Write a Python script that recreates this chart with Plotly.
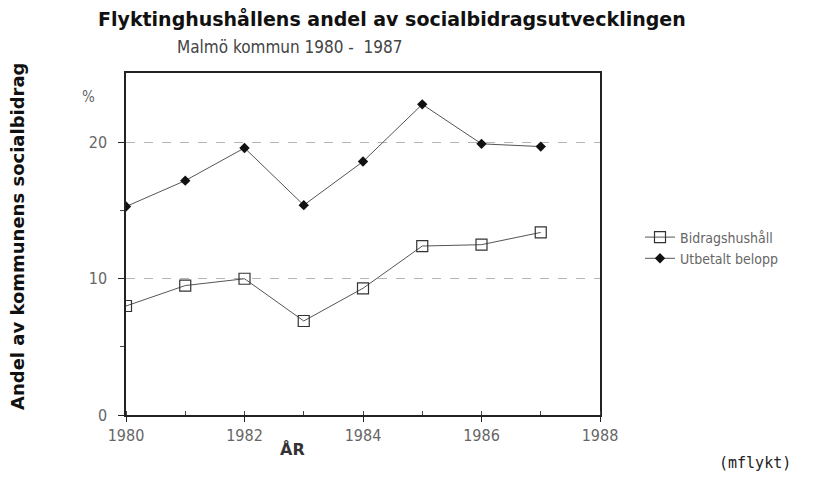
import plotly.graph_objects as go

years = [1980, 1981, 1982, 1983, 1984, 1985, 1986, 1987]
bidragshushall = [8.0, 9.5, 10.0, 6.9, 9.3, 12.4, 12.5, 13.4]
utbetalt_belopp = [15.3, 17.2, 19.6, 15.4, 18.6, 22.8, 19.9, 19.7]
x_ticks = [1980, 1982, 1984, 1986, 1988]
y_ticks = [0, 10, 20]

# page has an 8px body margin; positions below are in screenshot pixels
OFF = 8
W, H = 824, 491
PL, PR, PT, PB = 126, 600, 73, 415          # plot box in screenshot pixels
ML, MT = PL - OFF, PT - OFF
MR, MB = W - (PR - OFF), H - (PB - OFF)
PW, PH = PR - PL, PB - PT


def ann(text, px, py, font, angle=0):
    return dict(text=text, x=(px - PL) / PW, y=(PB - py) / PH, xref="paper", yref="paper",
                xanchor="center", yanchor="middle", showarrow=False, textangle=angle, font=font)


fig = go.Figure()
fig.add_trace(go.Scatter(
    x=years, y=bidragshushall, mode="lines+markers", name="Bidragshushåll",
    line=dict(color="#555555", width=1),
    marker=dict(symbol="square-open", size=11, color="#333333", line=dict(width=1.2)),
))
fig.add_trace(go.Scatter(
    x=years, y=utbetalt_belopp, mode="lines+markers", name="Utbetalt belopp",
    line=dict(color="#555555", width=1),
    marker=dict(symbol="diamond", size=8, color="#111111"),
))

cond = "DejaVu Sans Condensed, sans-serif"
tickfont = dict(family=cond, size=16, color="#666666")
fig.update_xaxes(
    range=[1980, 1988], tickvals=x_ticks, ticktext=[str(v) for v in x_ticks],
    showline=True, linecolor="#222222", linewidth=1.5, mirror=True,
    ticks="outside", ticklen=5, tickcolor="#222222",
    minor=dict(dtick=1, ticks="inside", ticklen=4, tickcolor="#444444"),
    showgrid=False, zeroline=False, tickfont=tickfont,
)
fig.update_yaxes(
    range=[0, 25.1], tickvals=y_ticks,
    showline=True, linecolor="#222222", linewidth=1.5, mirror=True,
    ticks="outside", ticklen=6, tickcolor="#222222", ticklabelstandoff=8,
    minor=dict(tickvals=[5, 15], ticks="outside", ticklen=4, tickcolor="#444444"),
    showgrid=True, gridcolor="#b5b5b5", griddash="dash", gridwidth=1,
    zeroline=False, tickfont=tickfont,
)

fig.update_layout(
    width=W, height=H,
    margin=dict(l=ML, r=MR, t=MT, b=MB),
    plot_bgcolor="white", paper_bgcolor="white",
    showlegend=True,
    legend=dict(x=(640 - PL) / PW, y=(PB - 248) / PH, xanchor="left", yanchor="middle",
                font=dict(family=cond, size=14, color="#666666"),
                bgcolor="rgba(0,0,0,0)", tracegroupgap=0, itemwidth=30),
    annotations=[
        ann("<b>Flyktinghushållens andel av socialbidragsutvecklingen</b>", 392, 18,
            dict(family="DejaVu Sans, sans-serif", size=19, color="#111111")),
        ann("Malmö kommun 1980 -  1987", 290, 47, dict(family=cond, size=17, color="#444444")),
        ann("%", 88, 97, dict(family=cond, size=15, color="#666666")),
        ann("<b>Andel av kommunens socialbidrag</b>", 17, 236,
            dict(family="DejaVu Sans, sans-serif", size=18, color="#111111"), angle=-90),
        ann("<b>ÅR</b>", 292, 449, dict(family="DejaVu Sans, sans-serif", size=16, color="#333333")),
        ann("(mflykt)", 755, 463, dict(family="DejaVu Sans Mono, monospace", size=15, color="#222222")),
    ],
)

fig.write_html("out.html")
